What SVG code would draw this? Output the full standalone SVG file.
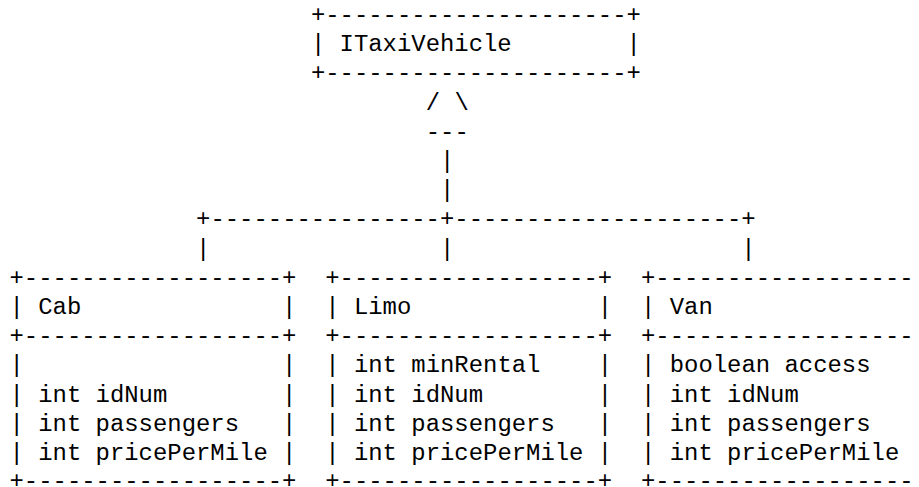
<svg xmlns="http://www.w3.org/2000/svg" width="919" height="487" viewBox="0 0 919 487" xml:space="preserve">
<style>
text { font-family: "Liberation Mono", "Courier New", monospace; font-size: 23.92px; fill: #000; white-space: pre; }
</style>
<rect x="0" y="0" width="919" height="487" fill="#fff"/>
<g id="ITaxiVehicle">
<text x="310.89" y="22">+---------------------+</text>
<text x="310.89" y="51.2">| ITaxiVehicle        |</text>
<text x="310.89" y="80.4">+---------------------+</text>
</g>
<g id="connectors">
<text x="425.71" y="109.6">/ \</text>
<text x="425.71" y="138.8">---</text>
<text x="440.06" y="168">|</text>
<text x="440.06" y="197.2">|</text>
<text x="196.08" y="226.4">+----------------+--------------------+</text>
<text x="196.08" y="255.6">|                |                    |</text>
</g>
<g id="Cab">
<text x="9.5" y="284.8">+------------------+</text>
<text x="9.5" y="314">| Cab              |</text>
<text x="9.5" y="343.2">+------------------+</text>
<text x="9.5" y="372.4">|                  |</text>
<text x="9.5" y="401.6">| int idNum        |</text>
<text x="9.5" y="430.8">| int passengers   |</text>
<text x="9.5" y="460">| int pricePerMile |</text>
<text x="9.5" y="488">+------------------+</text>
</g>
<g id="Limo">
<text x="325.24" y="284.8">+------------------+</text>
<text x="325.24" y="314">| Limo             |</text>
<text x="325.24" y="343.2">+------------------+</text>
<text x="325.24" y="372.4">| int minRental    |</text>
<text x="325.24" y="401.6">| int idNum        |</text>
<text x="325.24" y="430.8">| int passengers   |</text>
<text x="325.24" y="460">| int pricePerMile |</text>
<text x="325.24" y="488">+------------------+</text>
</g>
<g id="Van">
<text x="641" y="284.8">+------------------</text>
<text x="641" y="314">| Van</text>
<text x="641" y="343.2">+------------------</text>
<text x="641" y="372.4">| boolean access</text>
<text x="641" y="401.6">| int idNum</text>
<text x="641" y="430.8">| int passengers</text>
<text x="641" y="460">| int pricePerMile</text>
<text x="641" y="488">+------------------</text>
</g>
</svg>
